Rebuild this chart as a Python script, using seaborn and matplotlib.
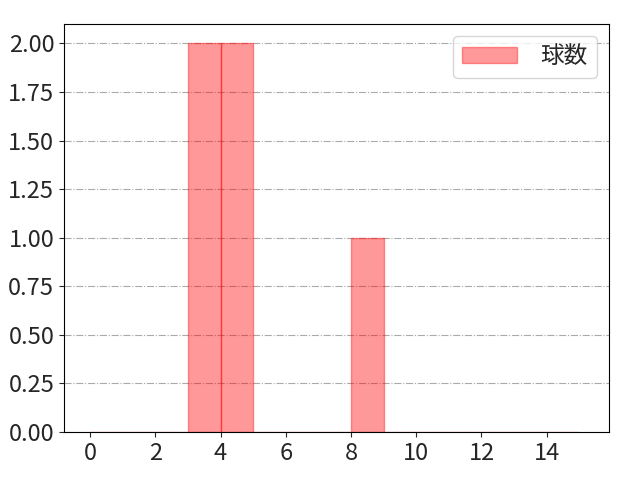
import numpy as np
import seaborn as sns
import matplotlib.pyplot as plt

# pitch counts (one value per ball)
pitches = [3, 3, 4, 4, 8]
bin_edges = list(range(0, 16))
legend_label = '球数'

sns.set_style('ticks')
plt.rcParams['font.family'] = ['Noto Sans CJK JP', 'DejaVu Sans']
plt.rcParams['font.size'] = 17

fig, ax = plt.subplots(figsize=(6.4, 4.8), dpi=100)
sns.histplot(x=pitches, bins=bin_edges, color='red', alpha=0.4,
             edgecolor=(1, 0, 0, 0.4), linewidth=1, label=legend_label, ax=ax)

ax.set_xlim(-0.8, 15.9)
ax.set_ylim(0, 2.1)
ax.set_xticks(range(0, 16, 2))
ax.set_yticks(np.arange(0, 2.01, 0.25))
ax.yaxis.set_major_formatter(plt.FormatStrFormatter('%.2f'))
ax.grid(axis='y', linestyle='-.', color='#aaaaaa', linewidth=0.8)
ax.set_axisbelow(True)
ax.set_xlabel('')
ax.set_ylabel('')
for s in ax.spines.values():
    s.set_visible(True)
    s.set_color('black')
ax.legend(loc='upper right', handlelength=2.3, handletextpad=1.0)

plt.subplots_adjust(left=0.1, right=0.951, top=0.95, bottom=0.1)
plt.savefig('out.png')
plt.close()
